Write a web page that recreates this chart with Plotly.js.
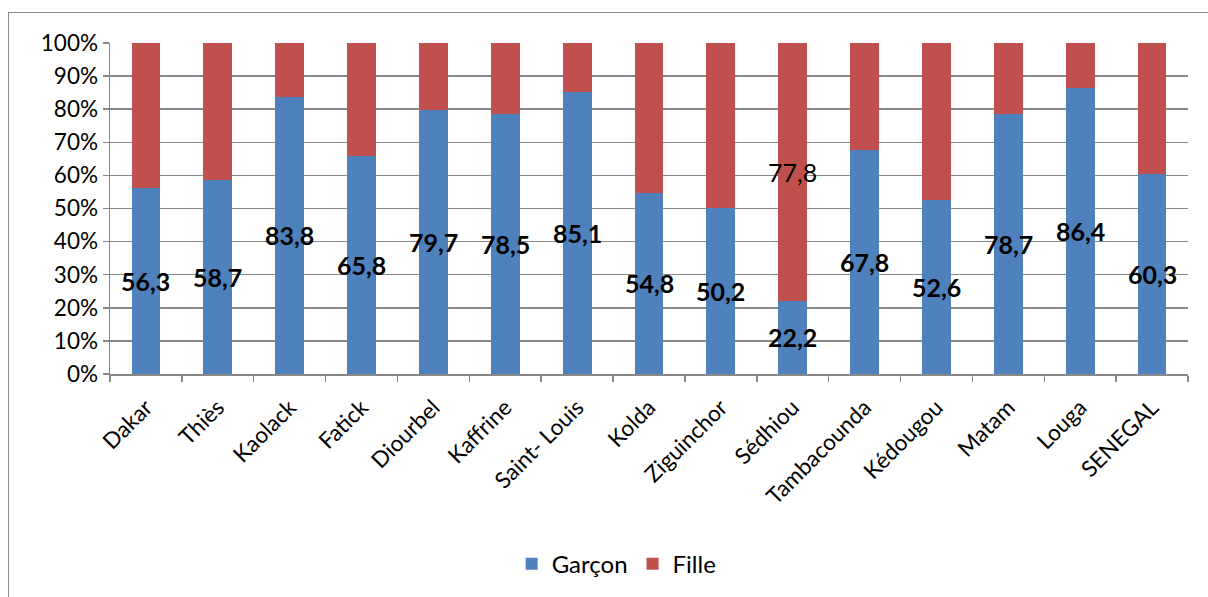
<!DOCTYPE html>
<html><head><meta charset="utf-8">
<script src="https://cdn.plot.ly/plotly-3.0.1.min.js"></script>
<style>
html,body{margin:0;padding:0;background:#fff;overflow:hidden;}
#frame{position:absolute;left:8px;top:12px;width:1210px;height:600px;border:1.5px solid #8c8c8c;box-sizing:border-box;}
#chart{position:absolute;left:0;top:0;width:1208px;height:597px;}
</style></head>
<body>
<div id="frame"></div>
<div id="chart"></div>
<script>
const regions = ["Dakar","Thiès","Kaolack","Fatick","Diourbel","Kaffrine","Saint- Louis","Kolda","Ziguinchor","Sédhiou","Tambacounda","Kédougou","Matam","Louga","SENEGAL"];
const garcon = [56.3,58.7,83.8,65.8,79.7,78.5,85.1,54.8,50.2,22.2,67.8,52.6,78.7,86.4,60.3];
const fille = garcon.map(v => +(100 - v).toFixed(1));
const filleLabelled = ["Sédhiou"];
const yTickVals = [0,10,20,30,40,50,60,70,80,90,100];
const yTickText = ["0%","10%","20%","30%","40%","50%","60%","70%","80%","90%","100%"];

const font = "Lato, 'Open Sans', sans-serif";
const traces = [
  {type:'bar', name:'Garçon', x:regions, y:garcon, marker:{color:'#4F81BD'}, hoverinfo:'skip'},
  {type:'bar', name:'Fille', x:regions, y:fille, marker:{color:'#C0504D'}, hoverinfo:'skip'}
];
const annotations = regions.map((r,i)=>({
  x:r, y:garcon[i]/2, xref:'x', yref:'y', text:'<b>'+garcon[i].toFixed(1).replace('.',',')+'</b>',
  showarrow:false, font:{family:font, size:25, color:'#000'}
}));
regions.forEach((r,i)=>{
  if(filleLabelled.includes(r)){
    annotations.push({x:r, y:garcon[i]+fille[i]/2, xref:'x', yref:'y',
      text:fille[i].toFixed(1).replace('.',','), showarrow:false,
      font:{family:font, size:25, color:'#000'}});
  }
});
const layout = {
  width:1208, height:597,
  margin:{l:110, r:20, t:43, b:222},
  paper_bgcolor:'rgba(0,0,0,0)', plot_bgcolor:'rgba(0,0,0,0)',
  barmode:'stack', bargap:0.6,
  font:{family:font, size:20, color:'#000'},
  xaxis:{type:'category', tickangle:-45, showline:true, linecolor:'#888', linewidth:1.5,
    ticks:'outside', tickson:'boundaries', ticklen:6, tickcolor:'#888', tickwidth:1.5,
    ticklabelstandoff:10,
    showgrid:false, automargin:false, tickfont:{family:font, size:22.5}},
  yaxis:{range:[0,100], tickmode:'array', tickvals:yTickVals, ticktext:yTickText, automargin:false,
    showline:true, linecolor:'#888', linewidth:1.5, ticks:'outside', ticklen:6, tickcolor:'#888',
    tickwidth:1.5, gridcolor:'#888', gridwidth:1.5, zeroline:false, tickfont:{family:font, size:22.5}},
  legend:{orientation:'h', x:0.47, xanchor:'center', y:-0.57, yanchor:'middle',
    font:{family:font, size:24}, traceorder:'normal'},
  annotations:annotations,
  showlegend:true
};
Plotly.newPlot('chart', traces, layout, {displayModeBar:false, staticPlot:true});
</script>
</body></html>
